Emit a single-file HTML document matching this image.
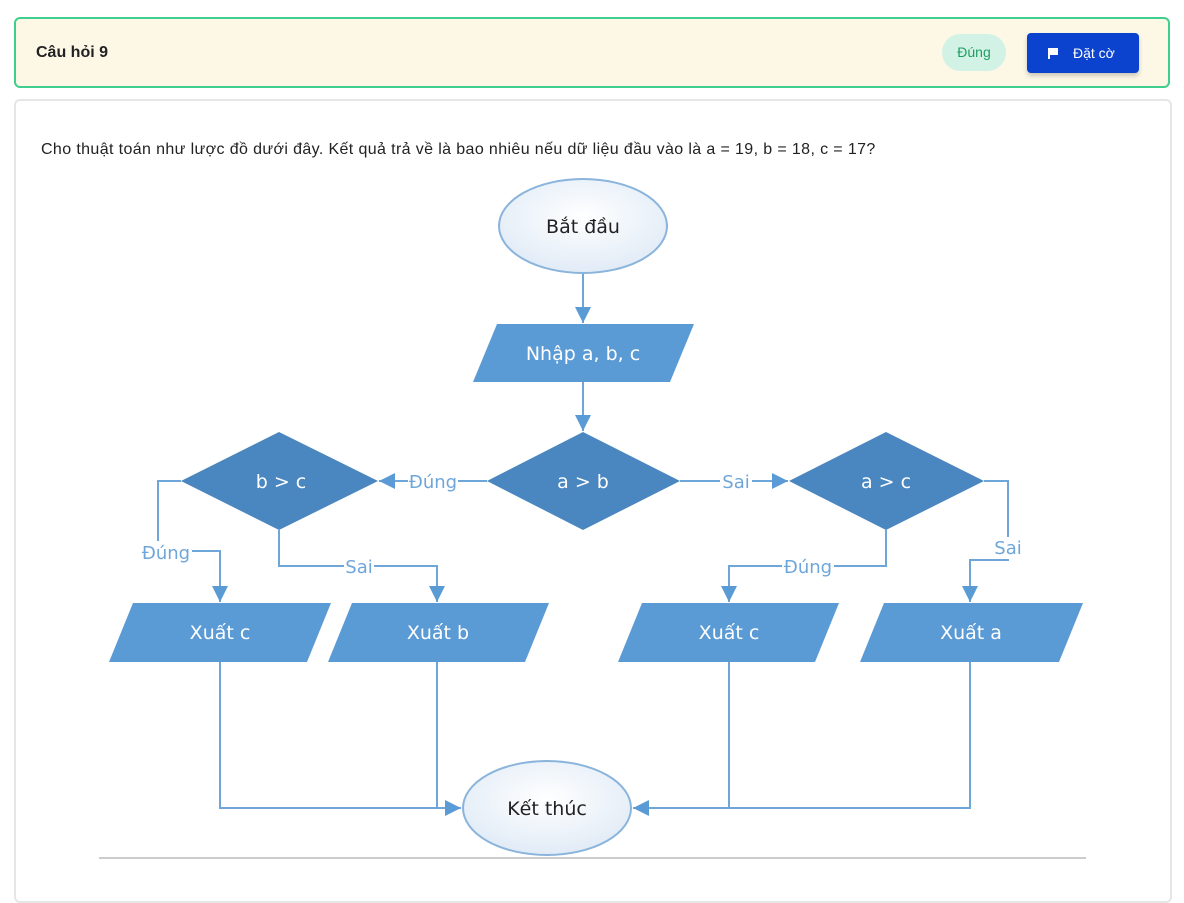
<!DOCTYPE html>
<html><head><meta charset="utf-8"><style>
body{margin:0;width:1184px;height:871px;overflow:hidden;background:#fff;font-family:"Liberation Sans",sans-serif;position:relative}
.hdr{position:absolute;left:14px;top:17px;width:1152px;height:67px;border:2px solid #3ecf8e;border-radius:6px;background:#fdf8e6}
.hdr .t{position:absolute;left:20px;top:25px;font-weight:bold;font-size:16px;color:#222}
.badge{position:absolute;left:926px;top:15px;width:64px;height:37px;border-radius:19px;background:#d1f2e4;color:#1f9d63;font-size:14px;line-height:37px;text-align:center}
.btn{position:absolute;left:1011px;top:14px;width:112px;height:40px;border-radius:4px;background:#0b43cf;color:#fff;font-size:14px;line-height:40px;box-shadow:0 3px 5px rgba(0,0,0,.2)}
.btn span{position:absolute;left:46px}
.card{position:absolute;left:14px;top:99px;width:1154px;height:800px;border:2px solid #e6e6e6;border-radius:6px;background:#fff}
.q{position:absolute;left:41px;top:141px;font-size:16px;letter-spacing:0.38px;color:#222;white-space:nowrap}
svg{position:absolute;left:0;top:0}
</style></head><body>
<div class="hdr"><div class="t">Câu hỏi 9</div><div class="badge">Đúng</div>
<div class="btn"><svg width="112" height="40" style="position:absolute;left:0;top:0"><rect x="21" y="15" width="2" height="11" fill="#fff"/><path d="M23 15h8v7h-8z" fill="#fff"/></svg><span>Đặt cờ</span></div></div>
<div class="card"></div>
<div class="q">Cho thuật toán như lược đồ dưới đây. Kết quả trả về là bao nhiêu nếu dữ liệu đầu vào là a = 19, b = 18, c = 17?</div>
<svg width="1184" height="871" font-family="'DejaVu Sans','Liberation Sans',sans-serif">
<defs><radialGradient id="g" cx="50%" cy="40%" r="70%"><stop offset="0" stop-color="#fff"/><stop offset="1" stop-color="#dce8f5"/></radialGradient>
<marker id="a" markerWidth="16" markerHeight="16" refX="16" refY="8" orient="auto" markerUnits="userSpaceOnUse" viewBox="0 0 16 16"><path d="M0 0L16 8L0 16z" fill="#5b9bd5"/></marker></defs>
<g stroke="#6fa6da" stroke-width="2" fill="none">
<path d="M583 274V323" marker-end="url(#a)" stroke-width="2"/>
<path d="M583 382V431" marker-end="url(#a)"/>
<path d="M487 481H379" marker-end="url(#a)"/>
<path d="M680 481H788" marker-end="url(#a)"/>
<path d="M181 481H158V551H220V602" marker-end="url(#a)"/>
<path d="M279 530V566H437V602" marker-end="url(#a)"/>
<path d="M886 530V566H729V602" marker-end="url(#a)"/>
<path d="M984 481H1008V560H970V602" marker-end="url(#a)"/>
<path d="M220 662V808H461" marker-end="url(#a)"/>
<path d="M437 662V808"/>
<path d="M729 662V808H633" marker-end="url(#a)"/>
<path d="M970 662V808H729"/>
</g>
<line x1="99" y1="858" x2="1086" y2="858" stroke="#ccc" stroke-width="2"/>
<g fill="url(#g)" stroke="#8ab4dc" stroke-width="2"><ellipse cx="583" cy="226" rx="84" ry="47"/><ellipse cx="547" cy="808" rx="84" ry="47"/></g>
<g fill="#5b9bd5"><path d="M497 324H694L670 382H473z"/><path d="M133 603H331L307 662H109z"/><path d="M352 603H549L525 662H328z"/><path d="M642 603H839L815 662H618z"/><path d="M884 603H1083L1059 662H860z"/></g>
<g fill="#4a86bf"><path d="M583 432L680 481L583 530L487 481z"/><path d="M279 432L378 481L279 530L181 481z"/><path d="M886 432L984 481L886 530L789 481z"/></g>
<g font-size="19" text-anchor="middle" fill="#fff">
<text x="583" y="360">Nhập a, b, c</text><text x="583" y="488">a &gt; b</text><text x="281" y="488">b &gt; c</text><text x="886" y="488">a &gt; c</text>
<text x="220" y="639">Xuất c</text><text x="438" y="639">Xuất b</text><text x="729" y="639">Xuất c</text><text x="971" y="639">Xuất a</text>
<text x="583" y="233" fill="#222">Bắt đầu</text><text x="547" y="815" fill="#222">Kết thúc</text></g>
<g font-size="18" text-anchor="middle" fill="#6fa6da">
<rect x="408" y="470" width="50" height="22" fill="#fff"/><text x="433" y="488">Đúng</text>
<rect x="720" y="470" width="32" height="22" fill="#fff"/><text x="736" y="488">Sai</text>
<rect x="140" y="541" width="52" height="22" fill="#fff"/><text x="166" y="559">Đúng</text>
<rect x="344" y="556" width="30" height="22" fill="#fff"/><text x="359" y="573">Sai</text>
<rect x="782" y="556" width="52" height="22" fill="#fff"/><text x="808" y="573">Đúng</text>
<rect x="993" y="537" width="30" height="22" fill="#fff"/><text x="1008" y="554">Sai</text>
</g>
</svg>
</body></html>
